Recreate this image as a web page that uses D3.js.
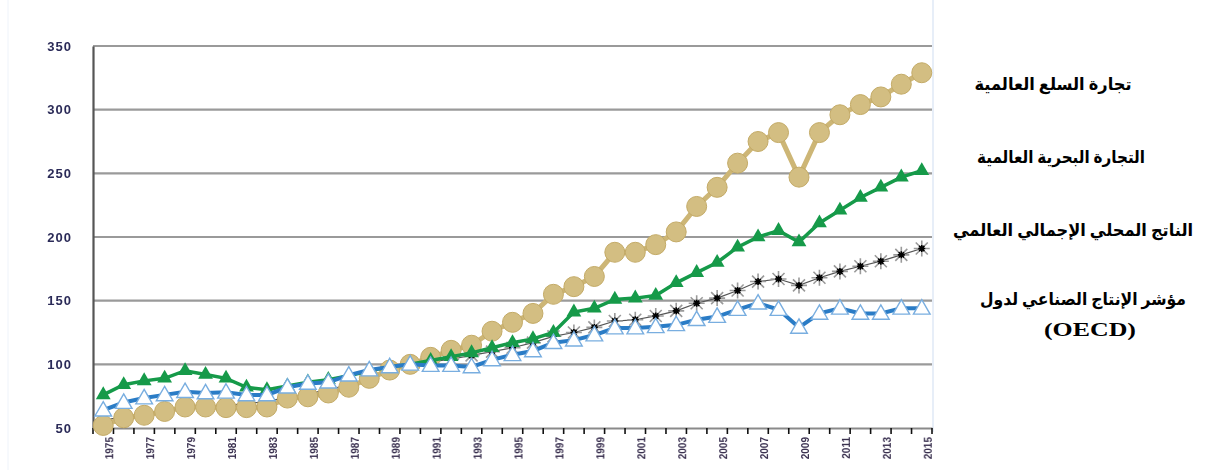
<!DOCTYPE html>
<html><head><meta charset="utf-8">
<script src="https://cdn.jsdelivr.net/npm/d3@7"></script>
<style>html,body{margin:0;padding:0;background:#fff;}svg{display:block;}</style>
</head><body>
<svg id="chart" width="1215" height="470"></svg>
<script>
const years = [1975,1976,1977,1978,1979,1980,1981,1982,1983,1984,1985,1986,1987,1988,1989,1990,1991,1992,1993,1994,1995,1996,1997,1998,1999,2000,2001,2002,2003,2004,2005,2006,2007,2008,2009,2010,2011,2012,2013,2014,2015];
const merchandiseTrade = [52,58,60,63,66.5,66.5,66,66,66.5,73.5,74.5,77.5,82,89,95.5,100,105.5,111,115,126,133,140,155,161,169,188,188,194,204,224,239,258,275,282,247,282,296,304,310,320,329];
const seaborneTrade = [76,84,87,89,95,92,89,82,80,83,86,88,91,95,98,100,103,106,109,113,117,120,125,141,144,151,152,154,164,172,180,192,200,205,196,211,221,231,239,247,252];
const worldGDP = [56,59,61,64,66,67,68,69,71,74,77,80,84,89,94,100,102,104,107,110,113,117,122,125,129,134,135,138,142,148,152,158,165,167,162,168,173,177,181,186,191];
const oecdIndex = [64,70,73.5,76,78.5,77.5,78,76,76,82,85,86,91.5,95.5,98,100,99,99,98,103.5,107.5,110.5,117,119,123,128.5,128.5,129.5,131,135,137.5,143,148,143,129,140,144,140,140,144,144];
const yTicks = [50,100,150,200,250,300,350];
const xTickLabels = [1975,1977,1979,1981,1983,1985,1987,1989,1991,1993,1995,1997,1999,2001,2003,2005,2007,2009,2011,2013,2015];
const legendLabels = ["تجارة السلع العالمية","التجارة البحرية العالمية","الناتج المحلي الإجمالي العالمي","مؤشر الإنتاج الصناعي لدول","(OECD)"];

const svg = d3.select("#chart");
const L = 93, R = 932, T = 46, B = 428;
const x = d3.scaleBand().domain(years).range([L, R]).padding(0);
const cx = d => x(d) + x.bandwidth()/2;
const y = d3.scaleLinear().domain([50,350]).range([B, T]);

const defs = svg.append("defs");
defs.append("filter").attr("id","soft").append("feGaussianBlur").attr("stdDeviation",0.6);
defs.append("filter").attr("id","softer").append("feGaussianBlur").attr("stdDeviation",0.35);

// faint border lines
svg.append("line").attr("x1",R+1).attr("x2",R+1).attr("y1",0).attr("y2",432).attr("stroke","#dfe9f6").attr("stroke-width",1.5);
svg.append("line").attr("x1",8).attr("x2",8).attr("y1",0).attr("y2",470).attr("stroke","#eef3fa").attr("stroke-width",1);

// grid
const grid = svg.append("g").attr("filter","url(#softer)");
grid.selectAll("line.g").data(yTicks.filter(v=>v>50)).join("line")
  .attr("x1",L).attr("x2",R).attr("y1",d=>y(d)).attr("y2",d=>y(d))
  .attr("stroke","#9a9a9a").attr("stroke-width",2.2);

// y axis
const yAxis = d3.axisLeft(y).tickValues(yTicks).tickSize(0).tickPadding(21);
const gy = svg.append("g").attr("transform",`translate(${L},0)`).call(yAxis);
gy.select(".domain").attr("stroke","#555").attr("stroke-width",2.2);
gy.selectAll("text").attr("font-family","Liberation Sans, Arial, sans-serif").attr("font-weight","bold")
  .attr("font-size",13).attr("letter-spacing",1).attr("fill","#2c2c58").attr("filter","url(#soft)");

// x axis
const xAxis = d3.axisBottom(x).tickSize(0).tickFormat(d => xTickLabels.includes(d) ? d : "");
const gx = svg.append("g").attr("transform",`translate(0,${B})`).call(xAxis);
gx.select(".domain").attr("stroke","#8a8a8a").attr("stroke-width",2.2);
gx.selectAll(".tick text")
  .attr("transform","rotate(-90)").attr("text-anchor","end")
  .attr("x",-9).attr("y",6).attr("dy","0.35em")
  .attr("font-family","Liberation Sans, Arial, sans-serif").attr("font-weight","bold")
  .attr("font-size",10).attr("fill","#3a3050").attr("filter","url(#soft)");
// boundary tick marks
const bounds = years.map(d => x(d)).concat([R]);
gx.append("g").selectAll("line").data(bounds).join("line")
  .attr("x1",d=>d).attr("x2",d=>d).attr("y1",0).attr("y2",6)
  .attr("stroke","#111").attr("stroke-width",1.6);

const line = d3.line().x((d,i)=>cx(years[i])).y(d=>y(d));
const plot = svg.append("g").attr("filter","url(#soft)");

// GDP (drawn first, partly hidden beneath the others)
plot.append("path").datum(worldGDP).attr("d",line).attr("fill","none")
  .attr("stroke","#555").attr("stroke-width",1.2);
const star = (s) => `M${-s},0L${s},0M0,${-s}L0,${s}M${-s*0.75},${-s*0.75}L${s*0.75},${s*0.75}M${-s*0.75},${s*0.75}L${s*0.75},${-s*0.75}`;
const gs = plot.append("g").selectAll("g").data(worldGDP).join("g")
  .attr("transform",(d,i)=>`translate(${cx(years[i])},${y(d)})`);
gs.append("path").attr("d",star(8)).attr("stroke","#9a9a9a").attr("stroke-width",1.6).attr("fill","none");
gs.append("path").attr("d",star(3.5)).attr("stroke","#000").attr("stroke-width",1.6).attr("fill","none");

// merchandise trade
plot.append("path").datum(merchandiseTrade).attr("d",line).attr("fill","none")
  .attr("stroke","#cdb676").attr("stroke-width",5);
plot.append("g").selectAll("circle").data(merchandiseTrade).join("circle")
  .attr("cx",(d,i)=>cx(years[i])).attr("cy",d=>y(d)).attr("r",10)
  .attr("fill","#d3be82").attr("stroke","#c3aa66").attr("stroke-width",1);

// seaborne trade
plot.append("path").datum(seaborneTrade).attr("d",line).attr("fill","none")
  .attr("stroke","#139a49").attr("stroke-width",3.5);
const tri = d3.symbol().type(d3.symbolTriangle).size(95);
plot.append("g").selectAll("path").data(seaborneTrade).join("path")
  .attr("d",tri).attr("transform",(d,i)=>`translate(${cx(years[i])},${y(d)})`)
  .attr("fill","#139a49");

// OECD
plot.append("path").datum(oecdIndex).attr("d",line).attr("fill","none")
  .attr("stroke","#2b7cc6").attr("stroke-width",4);
const tri2 = d3.symbol().type(d3.symbolTriangle).size(120);
plot.append("g").selectAll("path").data(oecdIndex).join("path")
  .attr("d",tri2).attr("transform",(d,i)=>`translate(${cx(years[i])},${y(d)+1})`)
  .attr("fill","#ffffff").attr("stroke","#79aee0").attr("stroke-width",1.4);

// legend texts
const legendPos = [
  {cx:1053, cy:84, w:157},
  {cx:1061, cy:157, w:168},
  {cx:1073, cy:230, w:240},
  {cx:1083, cy:299, w:206},
  {cx:1090, cy:329, w:92}
];
svg.append("g").selectAll("text").data(legendLabels).join("text")
  .attr("x",(d,i)=>legendPos[i].cx).attr("y",(d,i)=>legendPos[i].cy)
  .attr("dy","0.35em").attr("text-anchor","middle")
  .attr("direction",(d,i)=> i<4 ? "rtl" : "ltr")
  .attr("font-family","Liberation Serif, 'Times New Roman', 'DejaVu Sans', serif")
  .attr("font-weight","bold").attr("font-size",(d,i)=> i<4 ? 17 : 19).attr("fill","#000")
  .attr("textLength",(d,i)=>legendPos[i].w).attr("lengthAdjust","spacingAndGlyphs")
  .text(d=>d);
</script>
</body></html>
